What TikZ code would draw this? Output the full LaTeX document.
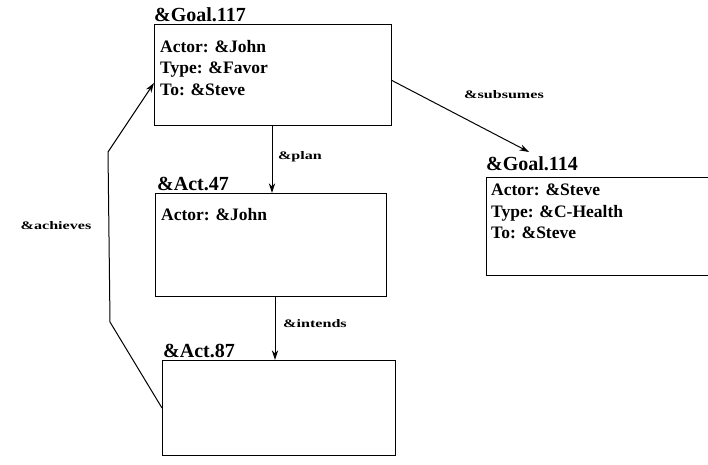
\documentclass[tikz,border=0pt]{standalone}
\usepackage{fontspec}
\setmainfont{Liberation Serif}
\newfontfamily\relfont{Liberation Serif}[FakeStretch=1.4]
\usetikzlibrary{positioning,arrows.meta}
\colorlet{cline}{black}
\tikzset{
  frame/.style={draw=cline, line width=1.4pt, anchor=north west, inner sep=0pt},
  ftitle/.style={font=\bfseries\fontsize{20}{20}\selectfont, anchor=south west, inner sep=0pt},
  slot/.style={font=\bfseries\fontsize{17.5}{21.5}\selectfont, anchor=north west, align=left, inner sep=0pt},
  rel/.style={font=\relfont\bfseries\fontsize{11.5}{12}\selectfont, inner sep=1pt},
  link/.style={-{Stealth[length=3.4mm,width=2.2mm]}, line width=1pt, cline},
}
\begin{document}
\begin{tikzpicture}[x=1pt, y=-1pt]
\useasboundingbox (0,0) rectangle (708,464);
% frames
\node[frame, minimum width=237pt, minimum height=101pt] (g117) at (154,24) {};
\node[frame, minimum width=231pt, minimum height=103pt] (a47) at (155,193) {};
\node[frame, minimum width=233pt, minimum height=95pt] (a87) at (162,360) {};
\node[frame, minimum width=222pt, minimum height=98pt] (g114) at (486,177) {};
% titles
\node[ftitle] (g117t) at (154,22) {\&Goal.117};
\node[ftitle] (a47t) at (157,191) {\&Act.47};
\node[ftitle] (a87t) at (163,358) {\&Act.87};
\node[ftitle] (g114t) at (486,171) {\&Goal.114};
% slots
\node[slot] (g117s) at (160,40) {Actor: \&John\\Type: \&Favor\\To: \&Steve};
\node[slot] (a47s) at (161,208) {Actor: \&John};
\node[slot] (g114s) at (491,184) {Actor: \&Steve\\Type: \&C-Health\\To: \&Steve};
% relations
\draw[link] (g117.south -| 272,0) -- (a47.north -| 272,0);
\node[rel] (lplan) at (300,157) {\&plan};
\draw[link] (a47.south -| 275,0) -- (a87.north -| 275,0);
\node[rel] (lint) at (315,324) {\&intends};
\coordinate (s0) at (391,80);
\coordinate (s1) at (529,152);
\draw[link] (s0) -- (s1);
\node[rel] (lsub) at (504,95) {\&subsumes};
\coordinate (c0) at (110,322);
\coordinate (c1) at (108,152);
\draw[link] (a87.west |- 0,408) -- (c0) -- (c1) -- (g117.west |- 0,83);
\node[rel] (lach) at (56,226) {\&achieves};
\end{tikzpicture}
\end{document}
